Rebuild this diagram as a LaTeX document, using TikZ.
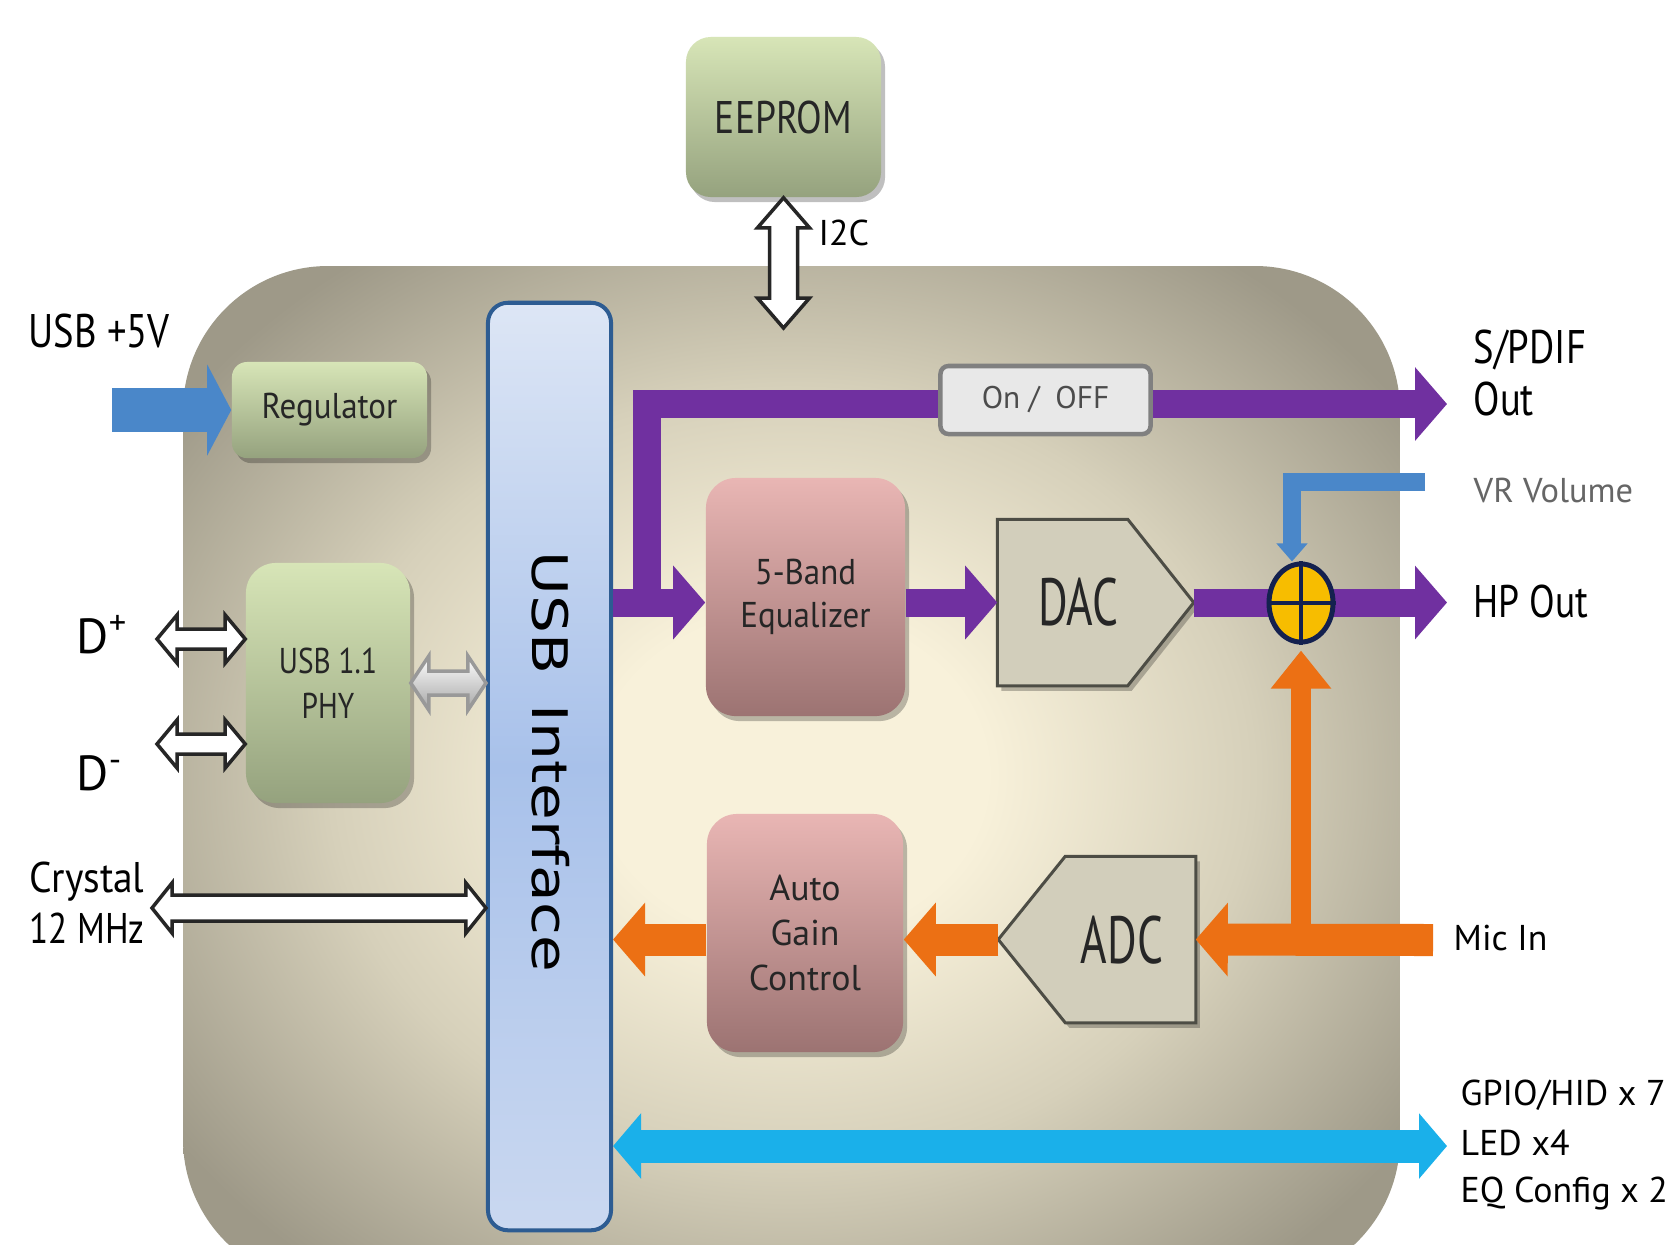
\documentclass[tikz,border=0pt]{standalone}
\usepackage{fontspec}
\setmainfont{PT Sans}
\newfontfamily\nfont{PT Sans}[FakeStretch=0.82]
\newfontfamily\sfontb{PT Sans}[FakeStretch=0.92]
\newfontfamily\dfont{PT Sans}[FakeStretch=0.68]
\newfontfamily\usbfont{DejaVu Sans}
\usetikzlibrary{arrows.meta,shadows,calc,shapes.geometric}
\definecolor{purp}{HTML}{7030A0}
\definecolor{orng}{HTML}{EC7014}
\definecolor{cyanb}{HTML}{1AB0EA}
\definecolor{blueb}{HTML}{4A87C9}
\definecolor{bgin}{HTML}{F8F1DA}
\definecolor{bgmid}{HTML}{D6D0BA}
\definecolor{bgout}{HTML}{9E9988}
\definecolor{gtop}{HTML}{D7E5B7}
\definecolor{gbot}{HTML}{95A27E}
\definecolor{ptop}{HTML}{E9B6B4}
\definecolor{pbot}{HTML}{9C7372}
\definecolor{utop}{HTML}{DDE6F5}
\definecolor{umid}{HTML}{A8C1EA}
\definecolor{ubot}{HTML}{CAD8F0}
\definecolor{uborder}{HTML}{2D5C92}
\definecolor{convfill}{HTML}{D2CEBB}
\definecolor{convdraw}{HTML}{4D4D45}
\definecolor{sumfill}{HTML}{F7BD00}
\definecolor{sumdraw}{HTML}{14214F}
\definecolor{txt}{HTML}{262626}
\pgfdeclareradialshading{bgshade}{\pgfpoint{0bp}{0bp}}{color(0bp)=(bgin); color(8bp)=(bgin); color(19bp)=(bgmid); color(31bp)=(bgout); color(50bp)=(bgout)}
\newcommand\fsz[2]{\fontsize{#1}{#2}\selectfont}
\newcommand\hdarrow[6]{\path[#1] let \p1=#2, \p2=#3 in (\x1,\y1) -- (\x1+#4,\y1+#5) -- (\x1+#4,\y1+#6) -- (\x2-#4,\y1+#6) -- (\x2-#4,\y1+#5) -- (\x2,\y1) -- (\x2-#4,\y1-#5) -- (\x2-#4,\y1-#6) -- (\x1+#4,\y1-#6) -- (\x1+#4,\y1-#5) -- cycle;}
\newcommand\vdarrow[6]{\path[#1] let \p1=#2, \p2=#3 in (\x1,\y1) -- (\x1+#5,\y1-#4) -- (\x1+#6,\y1-#4) -- (\x1+#6,\y2+#4) -- (\x1+#5,\y2+#4) -- (\x1,\y2) -- (\x1-#5,\y2+#4) -- (\x1-#6,\y2+#4) -- (\x1-#6,\y1-#4) -- (\x1-#5,\y1-#4) -- cycle;}
\begin{document}
\begin{tikzpicture}[x=0.01cm,y=-0.01cm,
  shad/.style={drop shadow={shadow xshift=0.04cm,shadow yshift=-0.05cm,opacity=0.25,fill=black}},
  greenbox/.style={shad,rounded corners=0.25cm,top color=gtop,bottom color=gbot,text=txt,inner sep=0},
  pinkbox/.style={shad,rounded corners=0.3cm,top color=ptop,bottom color=pbot,text=txt,inner sep=0},
  usbbox/.style={rounded corners=0.2cm,top color=utop,bottom color=ubot,middle color=umid,draw=uborder,line width=0.04cm},
  conv/.style={fill=convfill,draw=convdraw,line width=0.03cm,shad},
  lbl/.style={inner sep=0,anchor=base west,text=black},
  pline/.style={draw=purp,line width=0.28cm},
  parr/.style={pline,-{Triangle[length=0.32cm,width=0.72cm]}},
  oarr/.style={draw=orng,line width=0.32cm,-{Triangle[length=0.32cm,width=0.72cm]}},
  oarrv/.style={draw=orng,line width=0.2cm,-{Triangle[length=0.38cm,width=0.58cm]}},
  cyarr/.style={draw=cyanb,line width=0.33cm,{Triangle[length=0.28cm,width=0.64cm]}-{Triangle[length=0.28cm,width=0.64cm]}},
  barr/.style={draw=blueb,line width=0.44cm,-{Triangle[length=0.24cm,width=0.9cm]}},
  barrv/.style={draw=blueb,line width=0.18cm,-{Triangle[length=0.18cm,width=0.3cm]}},
  hollow/.style={fill=white,draw=black!85,line width=0.035cm},
  hollowgray/.style={top color=white,bottom color=black!35,draw=black!40,line width=0.035cm},
  sumnode/.style={ellipse,minimum width=0.64cm,minimum height=0.78cm,inner sep=0,fill=sumfill,draw=sumdraw,line width=0.05cm},
  onoffbox/.style={rounded corners=0.08cm,fill=black!9,draw=black!50,line width=0.045cm,text=black!70,inner sep=0}
]
\useasboundingbox (0,0) rectangle (1667,1244);
\fill[white] (0,0) rectangle (1667,1244);
\shade[shading=bgshade,rounded corners=1.45cm] (183,266) rectangle (1400,1284);

% boxes
\node[greenbox,minimum width=1.95cm,minimum height=1.60cm,font={\nfont\fsz{13}{15}}] (eeprom) at (783.5,117) {EEPROM};
\node[greenbox,rounded corners=0.15cm,minimum width=1.95cm,minimum height=0.96cm,font={\sfontb\fsz{10.2}{12}}] (reg) at (329.5,410) {Regulator};
\node[greenbox,rounded corners=0.3cm,minimum width=1.64cm,minimum height=2.40cm,align=center,font={\nfont\fsz{10.2}{12.8}}] (phy) at (328,683) {USB 1.1\\PHY};
\node[usbbox,minimum width=1.23cm,minimum height=9.27cm] (usb) at (549.5,766.5) {};
\node[rotate=-90,inner sep=0,font={\usbfont\fsz{17}{20}},text=black] (usbtxt) at (551,762) {\scalebox{1}[0.82]{USB\hspace{0.5em}Interface}};
\node[pinkbox,minimum width=1.99cm,minimum height=2.38cm,align=center,font={\sfontb\fsz{10.2}{12.2}}] (eq) at (805.5,597) {5-Band\\Equalizer};
\node[pinkbox,minimum width=1.96cm,minimum height=2.38cm,align=center,font={\fsz{10.2}{12.8}}] (agc) at (805,933) {Auto\\Gain\\Control};

\node[minimum width=1.95cm,minimum height=1.65cm,inner sep=0] (dac) at (1095.5,602.5) {};
\draw[conv] (dac.north west) -- ([xshift=-0.66cm]dac.north east) -- (dac.east) -- ([xshift=-0.66cm]dac.south east) -- (dac.south west) -- cycle;
\node[font={\dfont\fsz{19}{22}},text=txt,inner sep=0] (dactxt) at (1078,602) {DAC};
\node[minimum width=1.96cm,minimum height=1.65cm,inner sep=0] (adc) at (1097,939.5) {};
\draw[conv] (adc.west) -- ([xshift=0.67cm]adc.north west) -- (adc.north east) -- (adc.south east) -- ([xshift=0.67cm]adc.south west) -- cycle;
\node[font={\dfont\fsz{19}{22}},text=txt,inner sep=0] (adctxt) at (1122,940) {ADC};

% purple paths
\coordinate (brk) at (647,602.5);
\coordinate (spdifend) at (1447,404);
\coordinate (hpend) at (1447,602.5);
\draw[parr] (usb.east |- dac.west) -- (eq.west |- dac.west);
\draw[parr] (brk) |- (spdifend);
\draw[parr] (eq.east |- dac.west) -- (dac.west);
\draw[parr] (dac.east) -- (hpend);
\node[onoffbox,minimum width=2.1cm,minimum height=0.68cm,font={\fsz{8.9}{10}}] (onoff) at (1045.5,400) {On /\hspace{0.5em}OFF};

% summing junction
\node[sumnode] (sum) at (1301,603) {};
\draw[draw=sumdraw,line width=0.04cm] (sum.north) -- (sum.south) (sum.west) -- (sum.east);

% orange paths
\coordinate (micend) at (1433,940);
\draw[oarr] (micend) -- (adc.east);
\draw[oarrv] (sum.south |- micend) -- ([yshift=-0.06cm]sum.south);
\draw[oarr] (adc.west) -- (agc.east |- adc.west);
\draw[oarr] (agc.west |- adc.west) -- (usb.east |- adc.west);

% cyan bus
\coordinate (gpioend) at (1447,1146);
\draw[cyarr] (usb.east |- gpioend) -- (gpioend);

% blue
\coordinate (v5) at (112,410);
\draw[barr] (v5) -- (reg.west);
\coordinate (vr) at (1425,482);
\draw[barrv] (vr) -| ([xshift=-0.09cm]sum.north);

% hollow arrows
\coordinate (dpl) at (157,639);
\coordinate (dml) at (157,744);
\coordinate (xtal) at (152,908);
\coordinate (i2cend) at (783.5,328);
\hdarrow{hollow}{(dpl)}{(phy.west |- dpl)}{0.2cm}{0.24cm}{0.10cm}
\hdarrow{hollow}{(dml)}{(phy.west |- dml)}{0.2cm}{0.24cm}{0.10cm}
\hdarrow{hollow}{(xtal)}{(usb.west |- xtal)}{0.2cm}{0.25cm}{0.13cm}
\hdarrow{hollowgray}{(phy.east)}{(usb.west |- phy.east)}{0.18cm}{0.27cm}{0.12cm}
\vdarrow{hollow}{(eeprom.south)}{(i2cend)}{0.3cm}{0.26cm}{0.14cm}

% labels
\node[lbl,font={\fsz{10.2}{12}}] (i2c) at (818,245) {I2C};
\node[lbl,font={\nfont\fsz{13.4}{15}}] (usb5v) at (28,347) {USB +5V};
\node[lbl,font={\fsz{14}{16}}] (dplus) at (76,653) {D\textsuperscript{+}};
\node[lbl,font={\fsz{14}{16}}] (dminus) at (76,790) {D\textsuperscript{-}};
\node[lbl,font={\sfontb\fsz{12.2}{14}}] (xtal1) at (29,892) {Crystal};
\node[lbl,font={\nfont\fsz{12.2}{14}}] (xtal2) at (29,943) {12 MHz};
\node[lbl,font={\nfont\fsz{13.4}{15}}] (spdif1) at (1473,363) {S/PDIF};
\node[lbl,font={\nfont\fsz{13.4}{15}}] (spdif2) at (1473,415) {Out};
\node[lbl,font={\fsz{9.8}{12}},text=black!60] (vrvol) at (1473,502) {VR Volume};
\node[lbl,font={\nfont\fsz{13}{15}}] (hpout) at (1473,617) {HP Out};
\node[lbl,font={\fsz{10.2}{12}}] (micin) at (1453,950) {Mic In};
\node[lbl,font={\fsz{10.2}{12}}] (gpio1) at (1460,1105) {GPIO/HID x 7};
\node[lbl,font={\fsz{10.2}{12}}] (gpio2) at (1460,1155) {LED x4};
\node[lbl,font={\fsz{10.2}{12}}] (gpio3) at (1460,1202) {EQ Config x 2};
\end{tikzpicture}
\end{document}
